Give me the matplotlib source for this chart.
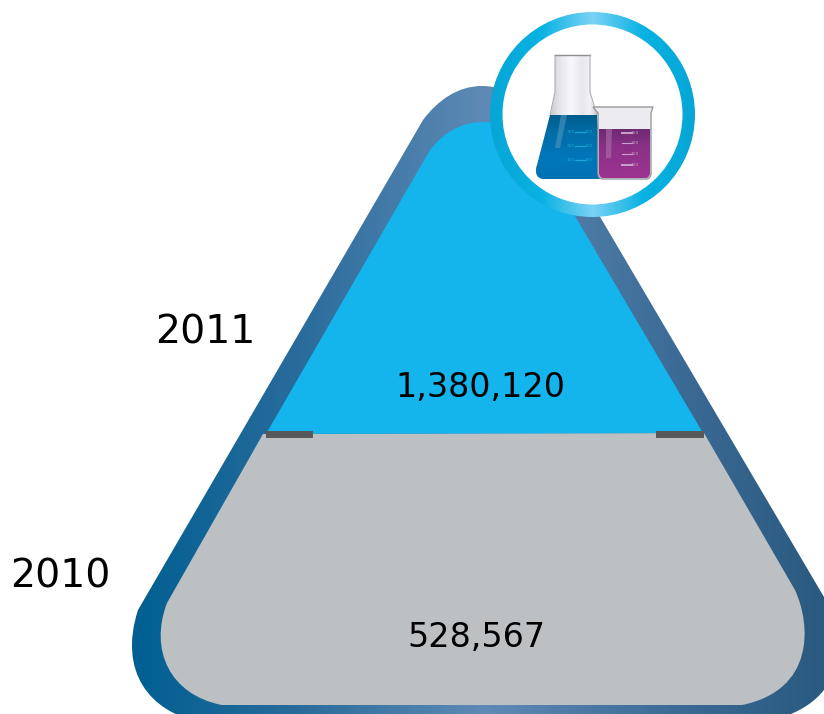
import matplotlib
matplotlib.use("Agg")
import matplotlib.pyplot as plt
import numpy as np
from matplotlib.colors import LinearSegmentedColormap
from matplotlib.patches import Circle, PathPatch, Polygon, Rectangle
from matplotlib.path import Path

years = ["2010", "2011"]
values = [528567, 1380120]
flask_scale = ["300", "200", "100"]
beaker_scale = ["250", "200", "150", "100"]

W, H = 824, 714
M, L, C = Path.MOVETO, Path.LINETO, Path.CURVE4

fig = plt.figure(figsize=(W / 100, H / 100), dpi=100)
ax = fig.add_axes([0, 0, 1, 1])
ax.axis("off")


def gradient(clip, x0, x1, y0, y1, colors, vertical=False, z=1):
    # 1-d colormap image cut out by a patch
    g = np.linspace(0, 1, 256)
    g = g[:, None] if vertical else g[None, :]
    cmap = LinearSegmentedColormap.from_list("g", colors)
    im = ax.imshow(g, cmap=cmap, extent=[x0, x1, y1, y0], aspect="auto",
                   interpolation="bilinear", zorder=z)
    clip.set(facecolor="none", edgecolor="none", transform=ax.transData)
    ax.add_patch(clip)
    im.set_clip_path(clip)


# flask outline
outer = Path(
    [(423, 120), (438, 100), (458, 86), (482, 86), (506, 86), (528, 98), (543, 120),
     (824, 597),
     (846, 640), (850, 704), (765, 722),
     (200, 722), (150, 712), (118, 672), (138, 610), (423, 120)],
    [M, C, C, C, C, C, C, L, C, C, C, L, C, C, C, L])
gradient(PathPatch(outer), 131, 840, 80, 725,
         [(0, "#005f92"), (0.24, "#2a6c9c"), (0.5, "#5f8ab5"), (0.75, "#3d6d98"), (1, "#28587c")])

# grey lower part
grey = Path(
    [(263, 434), (704, 433), (795, 590), (811, 625), (815, 690), (742, 705),
     (222, 705), (170, 695), (149, 650), (167, 603), (263, 434)],
    [M, L, L, C, C, C, L, C, C, C, L])
ax.add_patch(PathPatch(grey, facecolor="#bdc0c3", edgecolor="none", zorder=2))

# blue upper part
blue = Path(
    [(266, 434), (430, 150), (444, 132), (462, 122), (483, 122), (504, 122), (522, 132), (536, 150),
     (703, 433), (266, 434)],
    [M, L, C, C, C, C, C, L, L, L])
ax.add_patch(PathPatch(blue, facecolor="#14b4ec", edgecolor="none", zorder=3))

# level marks
ax.add_patch(Rectangle((266, 431), 47, 7, facecolor="#58595b", zorder=4))
ax.add_patch(Rectangle((656, 431), 48, 7, facecolor="#58595b", zorder=4))

# badge ring
gradient(Circle((592.5, 114.5), 102.5), 490, 695, 12, 217,
         [(0, "#06a6d6"), (0.25, "#08b2e2"), (0.5, "#7ad2f6"), (0.75, "#08b2e2"), (1, "#06a6d6")], z=5)
ax.add_patch(Circle((592.5, 114.5), 90, facecolor="white", edgecolor="none", zorder=6))

# flask icon: glass
glass = Path(
    [(555, 55), (590, 55), (590, 88), (590, 98), (594, 108), (597, 116),
     (602, 178), (540, 178), (534, 178), (535, 170), (537, 165),
     (550, 116), (552, 108), (555, 98), (555, 88), (555, 55)],
    [M, L, L, C, C, C, L, L, C, C, C, L, C, C, C, L])
gradient(PathPatch(glass), 550, 597, 55, 116,
         [(0, "#c9c9cf"), (0.2, "#e4e4ea"), (0.45, "#f9f9fc"), (0.7, "#e6e6ec"), (0.85, "#f3f3f6"), (1, "#c9c9cf")], z=7)
ax.plot([555, 590], [55, 55], color="#8f8d8d", lw=1, zorder=7)
ax.plot([555, 555, 550], [55, 92, 115], color="#b0b0b4", lw=0.8, zorder=7)
ax.plot([590, 590, 597], [55, 92, 115], color="#b0b0b4", lw=0.8, zorder=7)
flask_liquid = Path(
    [(550, 115), (597, 115), (602, 179), (544, 179), (535, 179), (535, 170), (537, 165), (550, 115)],
    [M, L, L, L, C, C, C, L])
gradient(PathPatch(flask_liquid), 535, 602, 115, 179,
         [(0, "#005e8e"), (0.3, "#006ea8"), (0.7, "#0077bb"), (1, "#0071b0")], vertical=True, z=8)
ax.add_patch(Polygon([(561, 115), (567, 115), (560, 148), (555, 148)],
                     facecolor="#4e97bf", edgecolor="none", alpha=0.6, zorder=9))
for y, s in zip([132, 146, 160], flask_scale):
    ax.plot([575, 585], [y, y], color="#1aa6d8", lw=0.9, zorder=9)
    ax.text(571, y, s, fontsize=3.2, color="#1aa6d8", ha="center", va="center", zorder=9)
    ax.text(589, y, s, fontsize=3.2, color="#1aa6d8", ha="center", va="center", zorder=9)

# beaker icon
beaker = Path(
    [(593, 107), (653, 107), (651, 113), (651, 173), (651, 177), (649, 179), (646, 179),
     (603, 179), (600, 179), (598, 177), (598, 173), (598, 113), (593, 107)],
    [M, L, L, L, C, C, C, L, C, C, C, L, L])
ax.add_patch(PathPatch(beaker, facecolor="#ebebf0", edgecolor="#9a9a9e", linewidth=1, zorder=10))
beaker_liquid = Path(
    [(599, 129), (650, 129), (650, 173), (650, 176), (648, 178), (646, 178),
     (603, 178), (601, 178), (599, 176), (599, 173), (599, 129)],
    [M, L, L, C, C, C, L, C, C, C, L])
gradient(PathPatch(beaker_liquid), 599, 650, 129, 178,
         [(0, "#6c2a72"), (0.35, "#8a3086"), (1, "#9c3492")], vertical=True, z=11)
ax.add_patch(Polygon([(606, 129), (612, 129), (611, 158), (606, 158)],
                     facecolor="#b57cb0", edgecolor="none", alpha=0.5, zorder=12))
for y, s, lw in zip([133, 143, 154, 165], beaker_scale, [1.4, 0.8, 0.8, 1.4]):
    ax.plot([622, 632], [y, y], color="#c9a2cc", lw=lw, zorder=12)
    ax.text(635, y, s, fontsize=3.2, color="#c9a2cc", ha="center", va="center", zorder=12)

# labels
year_pos = [(60, 588), (205.5, 343)]
value_pos = [(476.5, 647), (480, 397)]
for yr, v, yp, vp in zip(years, values, year_pos, value_pos):
    ax.text(yp[0], yp[1], yr, fontsize=28.4, ha="center", va="baseline", color="black", zorder=13)
    ax.text(vp[0], vp[1], f"{v:,}", fontsize=24, ha="center", va="baseline", color="black", zorder=13)

ax.set_xlim(0, W)
ax.set_ylim(H, 0)
fig.savefig("out.png", dpi=100, facecolor="white")
